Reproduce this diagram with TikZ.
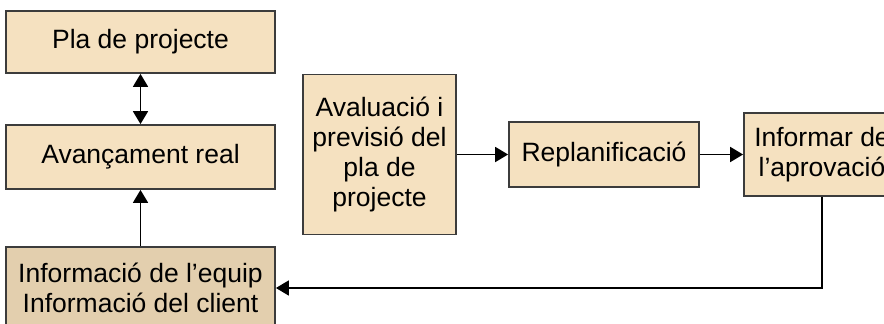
\documentclass[tikz,border=0pt]{standalone}
\usepackage{fontspec}
\setmainfont{Liberation Sans}
\usetikzlibrary{arrows.meta}
\definecolor{boxfill}{HTML}{F5E1C0}
\definecolor{boxfilldark}{HTML}{E3CFAE}
\definecolor{boxline}{HTML}{3C3C3C}
\begin{document}
\begin{tikzpicture}[x=1pt,y=-1pt,
  box/.style={draw=boxline,fill=boxfill,line width=1.8pt,inner sep=0pt,align=center,
    font=\fontsize{26.5}{30}\selectfont},
  conn/.style={line width=1.8pt,black,-{Triangle[length=13pt,width=15pt]}},
  biconn/.style={line width=1.8pt,black,{Triangle[length=13pt,width=15pt]}-{Triangle[length=13pt,width=15pt]}}]
\useasboundingbox (0,0) rectangle (884,324);
\node[box,minimum width=269pt,minimum height=62pt] (pla) at (140.5,42) {Pla de projecte};
\node[box,minimum width=269pt,minimum height=64pt] (avan) at (140.5,157) {Avançament real};
\node[box,fill=boxfilldark,minimum width=269pt,minimum height=82pt] (info) at (140.5,288) {Informació de l’equip\\Informació del client};
\node[box,minimum width=153pt,minimum height=160pt] (aval) at (379.5,154.5) {Avaluació i\\previsió del\\pla de\\projecte};
\node[box,minimum width=190pt,minimum height=65pt] (repl) at (604,154.5) {Replanificació};
\node[box,minimum width=156pt,minimum height=83pt] (inf) at (822,154.5) {Informar de\\l’aprovació};
\draw[biconn] (pla.south) -- (avan.north);
\draw[conn] (info.north) -- (avan.south);
\draw[conn] (aval.east) -- (repl.west);
\draw[conn] (repl.east) -- (inf.west);
\draw[conn] (inf.south) |- (info.east);
\end{tikzpicture}
\end{document}
